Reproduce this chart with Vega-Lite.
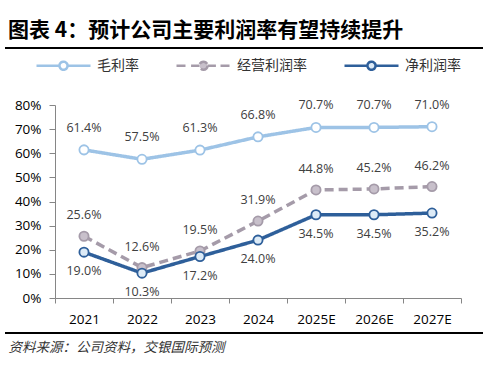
{
  "$schema": "https://vega.github.io/schema/vega-lite/v6.json",
  "autosize": {"type": "none"},
  "width": 406,
  "height": 193,
  "padding": {"left": 55, "top": 105, "right": 27, "bottom": 70},
  "background": "#ffffff",
  "config": {"view": {"stroke": null}},
  "title": {
    "text": "图表 4：预计公司主要利润率有望持续提升",
    "anchor": "start",
    "frame": "group",
    "orient": "top",
    "font": "Noto Sans CJK SC",
    "fontSize": 21,
    "fontWeight": "bold",
    "color": "#000000",
    "dx": -47,
    "offset": -4
  },
  "data": {
    "values": [
      {"year": "2021", "series": "毛利率", "value": 0.614},
      {"year": "2022", "series": "毛利率", "value": 0.575},
      {"year": "2023", "series": "毛利率", "value": 0.613},
      {"year": "2024", "series": "毛利率", "value": 0.668},
      {"year": "2025E", "series": "毛利率", "value": 0.707},
      {"year": "2026E", "series": "毛利率", "value": 0.707},
      {"year": "2027E", "series": "毛利率", "value": 0.710},
      {"year": "2021", "series": "经营利润率", "value": 0.256},
      {"year": "2022", "series": "经营利润率", "value": 0.126},
      {"year": "2023", "series": "经营利润率", "value": 0.195},
      {"year": "2024", "series": "经营利润率", "value": 0.319},
      {"year": "2025E", "series": "经营利润率", "value": 0.448},
      {"year": "2026E", "series": "经营利润率", "value": 0.452},
      {"year": "2027E", "series": "经营利润率", "value": 0.462},
      {"year": "2021", "series": "净利润率", "value": 0.190},
      {"year": "2022", "series": "净利润率", "value": 0.103},
      {"year": "2023", "series": "净利润率", "value": 0.172},
      {"year": "2024", "series": "净利润率", "value": 0.240},
      {"year": "2025E", "series": "净利润率", "value": 0.345},
      {"year": "2026E", "series": "净利润率", "value": 0.345},
      {"year": "2027E", "series": "净利润率", "value": 0.352}
    ]
  },
  "encoding": {
    "x": {
      "field": "year",
      "type": "ordinal",
      "sort": null,
      "bandPosition": 0.5,
      "scale": {"type": "band", "paddingInner": 0, "paddingOuter": 0},
      "axis": {
        "title": "资料来源：公司资料，交银国际预测",
        "titleX": -47,
        "titleY": 49,
        "titleAlign": "left",
        "titleBaseline": "middle",
        "titleFont": "Noto Sans CJK SC",
        "titleFontSize": 13.5,
        "titleFontStyle": "italic",
        "titleFontWeight": "normal",
        "titleColor": "#333333",
        "labelAngle": 0,
        "labelFont": "Open Sans",
        "labelFontSize": 13.5,
        "labelColor": "#000000",
        "labelPadding": 9,
        "tickBand": "extent",
        "tickSize": 5,
        "tickColor": "#868686",
        "domainColor": "#868686",
        "grid": false
      }
    },
    "y": {
      "field": "value",
      "type": "quantitative",
      "scale": {"domain": [0, 0.8], "nice": false},
      "axis": {
        "title": null,
        "values": [0, 0.1, 0.2, 0.3, 0.4, 0.5, 0.6, 0.7, 0.8],
        "format": ".0%",
        "labelFont": "Open Sans",
        "labelFontSize": 13.5,
        "labelColor": "#000000",
        "labelPadding": 8,
        "tickSize": 6,
        "tickColor": "#868686",
        "domainColor": "#868686",
        "grid": false
      }
    }
  },
  "layer": [
    {
      "mark": {"type": "line", "strokeWidth": 3.5},
      "encoding": {
        "stroke": {
          "field": "series",
          "type": "nominal",
          "scale": {
            "domain": ["毛利率", "经营利润率", "净利润率"],
            "range": ["#9DC3E6", "#A59BA9", "#2E5F9A"]
          },
          "legend": {
            "title": null,
            "orient": "none",
            "direction": "horizontal",
            "legendX": -20,
            "legendY": -68,
            "symbolSize": 2916,
            "symbolStrokeWidth": 2.5,
            "labelFont": "Noto Sans CJK SC",
            "labelFontSize": 14,
            "labelColor": "#333333",
            "labelOffset": 5,
            "columnPadding": 32,
            "encode": {
              "symbols": {
                "update": {
                  "shape": {"signal": "datum.value === '经营利润率' ? 'M-1,0L-0.63,0M-0.46,0L-0.15,0M0.15,0L0.46,0M0.63,0L1,0M0.15,0C0.15,0.083 0.083,0.15 0,0.15C-0.083,0.15 -0.15,0.083 -0.15,0C-0.15,-0.083 -0.083,-0.15 0,-0.15C0.083,-0.15 0.15,-0.083 0.15,0Z' : 'M-1,0L-0.15,0M0.15,0L1,0M0.15,0C0.15,0.083 0.083,0.15 0,0.15C-0.083,0.15 -0.15,0.083 -0.15,0C-0.15,-0.083 -0.083,-0.15 0,-0.15C0.083,-0.15 0.15,-0.083 0.15,0Z'"},
                  "fill": {"signal": "datum.value === '毛利率' ? '#ffffff' : datum.value === '经营利润率' ? '#C8C0CB' : '#DDEBF7'"},
                  "strokeDash": {"value": [1, 0]},
                  "opacity": {"value": 1},
                  "fillOpacity": {"value": 1}
                }
              }
            }
          }
        },
        "strokeDash": {
          "field": "series",
          "type": "nominal",
          "scale": {
            "domain": ["毛利率", "经营利润率", "净利润率"],
            "range": [[1, 0], [9, 5], [1, 0]]
          },
          "legend": null
        }
      }
    },
    {
      "mark": {"type": "point", "filled": true, "opacity": 1, "size": 85, "strokeWidth": 1.8, "shape": "circle"},
      "encoding": {
        "stroke": {"field": "series", "type": "nominal"},
        "fill": {
          "field": "series",
          "type": "nominal",
          "scale": {
            "domain": ["毛利率", "经营利润率", "净利润率"],
            "range": ["#ffffff", "#C8C0CB", "#DDEBF7"]
          },
          "legend": null
        }
      }
    },
    {
      "transform": [{"filter": "datum.series === '毛利率'"}],
      "mark": {"type": "text", "dy": -22, "font": "Open Sans", "fontSize": 12.5, "color": "#404040", "baseline": "middle"},
      "encoding": {"text": {"field": "value", "type": "quantitative", "format": ".1%"}}
    },
    {
      "transform": [{"filter": "datum.series === '经营利润率'"}],
      "mark": {"type": "text", "dy": -21, "font": "Open Sans", "fontSize": 12.5, "color": "#404040", "baseline": "middle"},
      "encoding": {"text": {"field": "value", "type": "quantitative", "format": ".1%"}}
    },
    {
      "transform": [{"filter": "datum.series === '净利润率'"}],
      "mark": {"type": "text", "dy": 19, "font": "Open Sans", "fontSize": 12.5, "color": "#404040", "baseline": "middle"},
      "encoding": {"text": {"field": "value", "type": "quantitative", "format": ".1%"}}
    },
    {
      "data": {"values": [{"line": "top"}]},
      "mark": {"type": "rule", "color": "#000000", "strokeWidth": 2},
      "encoding": {"x": {"value": -50}, "x2": {"value": 428}, "y": {"value": -57}}
    },
    {
      "data": {"values": [{"line": "bottom"}]},
      "mark": {"type": "rule", "color": "#000000", "strokeWidth": 2},
      "encoding": {"x": {"value": -50}, "x2": {"value": 428}, "y": {"value": 228}}
    }
  ]
}
